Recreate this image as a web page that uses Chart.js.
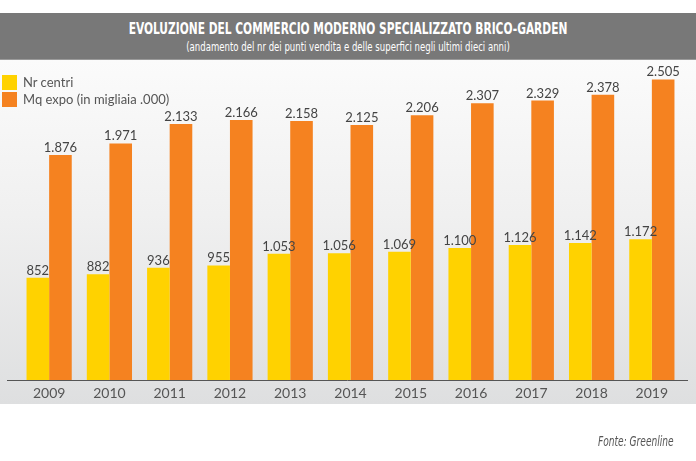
<!DOCTYPE html>
<html>
<head>
<meta charset="utf-8">
<script src="https://cdn.jsdelivr.net/npm/chart.js@4/dist/chart.umd.min.js"></script>
<style>
  html,body{margin:0;padding:0;background:#fff;}
  #wrap{position:relative;width:696px;height:461px;overflow:hidden;background:#fff;}
  #panel{position:absolute;left:0;top:60px;width:696px;height:344px;
    background:linear-gradient(to bottom,#fbfbfb 0%,#f0f0f0 45%,#dedfe0 100%);}
  #titlebar{position:absolute;left:0;top:13px;width:696px;height:46px;background:#787878;
    border-bottom:1px solid #9a9a9a;}
  #t1{position:absolute;left:0;top:6px;width:696px;text-align:center;color:#fff;
    font-family:"DejaVu Sans Condensed",sans-serif;font-weight:bold;font-size:16px;
    transform:scaleX(0.74);transform-origin:348px 0;white-space:nowrap;}
  #t2{position:absolute;left:0;top:26px;width:696px;text-align:center;color:#fff;
    font-family:"DejaVu Sans Condensed",sans-serif;font-size:12.5px;
    transform:scaleX(0.76);transform-origin:348px 0;white-space:nowrap;}
  canvas{position:absolute;left:0;top:0;}
  .leg{position:absolute;left:23px;font-family:Lato,"DejaVu Sans",sans-serif;font-size:13px;color:#555;}
  .sq{position:absolute;left:2px;width:15px;height:15px;}
  #src{position:absolute;left:598px;top:433px;font-family:"DejaVu Sans Condensed",sans-serif;
    font-style:italic;font-size:14px;color:#555;transform:scaleX(0.72);transform-origin:0 0;white-space:nowrap;}
</style>
</head>
<body>
<div id="wrap">
  <div id="panel"></div>
  <div id="titlebar">
    <div id="t1">EVOLUZIONE DEL COMMERCIO MODERNO SPECIALIZZATO BRICO-GARDEN</div>
    <div id="t2">(andamento del nr dei punti vendita e delle superfici negli ultimi dieci anni)</div>
  </div>
  <canvas id="c" width="696" height="461"></canvas>
  <div class="sq" style="top:75px;background:#FFD200"></div>
  <div class="sq" style="top:92px;background:#F58220"></div>
  <div class="leg" style="top:74px">Nr centri</div>
  <div class="leg" style="top:91px">Mq expo (in migliaia .000)</div>
  <div id="src">Fonte: Greenline</div>
</div>
<script>
const years = ["2009","2010","2011","2012","2013","2014","2015","2016","2017","2018","2019"];
const nrCentri = [852, 882, 936, 955, 1053, 1056, 1069, 1100, 1126, 1142, 1172];
const mqExpo = [1876, 1971, 2133, 2166, 2158, 2125, 2206, 2307, 2329, 2378, 2505];
const seriesNames = ["Nr centri", "Mq expo (in migliaia .000)"];

function fmt(v){
  return v.toString().replace(/\B(?=(\d{3})+(?!\d))/g, ".");
}

const valueLabels = {
  id:'valueLabels',
  afterDatasetsDraw(chart){
    const ctx = chart.ctx;
    ctx.save();
    ctx.font = '13px Lato, "DejaVu Sans", sans-serif';
    ctx.fillStyle = '#444';
    ctx.textAlign = 'center';
    ctx.textBaseline = 'alphabetic';
    chart.data.datasets.forEach((ds, i) => {
      const meta = chart.getDatasetMeta(i);
      meta.data.forEach((el, j) => {
        ctx.fillText(fmt(ds.data[j]), el.x, el.y - 3);
      });
    });
    ctx.restore();
  }
};
const axisLine = {
  id:'axisLine',
  afterDatasetsDraw(chart){
    const ctx = chart.ctx, a = chart.chartArea;
    const y = chart.scales.y.getPixelForValue(0);
    ctx.save();
    ctx.strokeStyle = '#555';
    ctx.lineWidth = 1;
    ctx.beginPath();
    ctx.moveTo(a.left - 12, Math.round(y) + 0.5);
    ctx.lineTo(a.right + 6, Math.round(y) + 0.5);
    ctx.stroke();
    ctx.restore();
  }
};

new Chart(document.getElementById('c'), {
  type:'bar',
  data:{
    labels: years,
    datasets:[
      {label: seriesNames[0], data: nrCentri, backgroundColor:'#FFD200', categoryPercentage:0.75, barPercentage:1.0},
      {label: seriesNames[1], data: mqExpo, backgroundColor:'#F58220', categoryPercentage:0.75, barPercentage:1.0}
    ]
  },
  options:{
    responsive:false,
    animation:false,
    layout:{padding:{left:19, right:14, top:68, bottom:57}},
    plugins:{legend:{display:false}, tooltip:{enabled:false}, title:{display:false}},
    scales:{
      x:{
        grid:{display:false, drawTicks:false},
        border:{display:false},
        ticks:{color:'#555', font:{family:'Lato, "DejaVu Sans", sans-serif', size:14}, padding:5, maxRotation:0},
        afterFit(s){ s.height = 24; }
      },
      y:{display:false, min:0, max:2600}
    }
  },
  plugins:[valueLabels, axisLine]
});
</script>
</body>
</html>
